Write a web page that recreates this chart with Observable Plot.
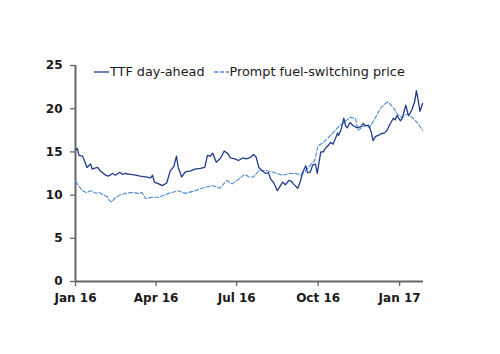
<!DOCTYPE html>
<html>
<head>
<meta charset="utf-8">
<script src="https://cdn.jsdelivr.net/npm/d3@7"></script>
<script src="https://cdn.jsdelivr.net/npm/@observablehq/plot@0.6"></script>
<style>
  html, body { margin: 0; padding: 0; background: #fff; }
  #wrap { position: relative; width: 500px; height: 354px; }
  #legend { position: absolute; left: 94px; top: 64px; font: 12.8px "DejaVu Sans", sans-serif; color: #1a1a1a; display: flex; align-items: center; white-space: nowrap; }
  #legend svg { display: block; }
</style>
</head>
<body>
<div id="wrap"></div>
<script>
const ttfDates = ["2016-01-01","2016-01-03","2016-01-05","2016-01-09","2016-01-11","2016-01-14","2016-01-18","2016-01-20","2016-01-22","2016-01-26","2016-01-29","2016-01-31","2016-02-04","2016-02-07","2016-02-12","2016-02-15","2016-02-20","2016-02-23","2016-02-26","2016-03-03","2016-03-09","2016-03-14","2016-03-20","2016-03-26","2016-03-28","2016-03-30","2016-04-04","2016-04-08","2016-04-13","2016-04-17","2016-04-21","2016-04-24","2016-04-26","2016-04-30","2016-05-04","2016-05-10","2016-05-15","2016-05-21","2016-05-26","2016-05-29","2016-06-01","2016-06-04","2016-06-08","2016-06-13","2016-06-17","2016-06-21","2016-06-24","2016-06-29","2016-07-03","2016-07-08","2016-07-12","2016-07-17","2016-07-20","2016-07-23","2016-07-26","2016-07-30","2016-08-03","2016-08-06","2016-08-08","2016-08-12","2016-08-16","2016-08-19","2016-08-22","2016-08-25","2016-08-29","2016-09-01","2016-09-03","2016-09-08","2016-09-11","2016-09-13","2016-09-17","2016-09-19","2016-09-22","2016-09-25","2016-09-28","2016-09-30","2016-10-04","2016-10-07","2016-10-09","2016-10-13","2016-10-15","2016-10-18","2016-10-23","2016-10-24","2016-10-27","2016-10-30","2016-11-01","2016-11-03","2016-11-06","2016-11-10","2016-11-14","2016-11-18","2016-11-21","2016-11-23","2016-11-27","2016-11-30","2016-12-02","2016-12-05","2016-12-08","2016-12-11","2016-12-15","2016-12-18","2016-12-21","2016-12-25","2016-12-27","2016-12-29","2017-01-02","2017-01-04","2017-01-08","2017-01-11","2017-01-13","2017-01-15","2017-01-18","2017-01-20","2017-01-22","2017-01-24","2017-01-27"];
const ttfValues = [15.2,15.4,14.6,14.5,14.0,13.2,13.6,13.0,13.1,13.2,12.8,12.65,12.3,12.2,12.5,12.3,12.65,12.4,12.5,12.4,12.3,12.2,12.1,12.0,12.3,11.5,11.3,11.1,11.4,12.8,13.3,14.5,13.2,12.1,12.7,12.8,13.0,13.1,13.2,14.6,14.5,14.85,13.8,14.3,15.1,14.8,14.3,14.2,14.0,14.3,14.2,14.4,14.7,14.4,13.2,12.8,12.5,12.6,11.9,11.4,10.5,11.0,11.5,11.2,11.7,11.6,11.3,10.8,11.6,12.5,13.4,12.6,12.65,13.5,13.6,12.5,15.0,15.0,15.4,15.8,16.1,15.9,17.2,16.9,17.6,18.9,18.0,17.8,18.4,18.0,17.8,17.9,18.3,18.0,18.1,17.3,16.3,16.8,16.9,17.1,17.2,17.5,18.2,18.9,18.7,19.2,18.6,18.9,20.4,19.2,19.5,19.9,20.8,22.1,21.0,19.7,20.6];

const promptDates = ["2016-01-01","2016-01-05","2016-01-09","2016-01-13","2016-01-19","2016-01-24","2016-01-28","2016-02-02","2016-02-06","2016-02-08","2016-02-11","2016-02-14","2016-02-20","2016-02-26","2016-03-04","2016-03-12","2016-03-16","2016-03-20","2016-03-27","2016-04-04","2016-04-15","2016-04-26","2016-05-04","2016-05-15","2016-05-26","2016-06-04","2016-06-12","2016-06-20","2016-06-26","2016-07-04","2016-07-10","2016-07-15","2016-07-20","2016-07-26","2016-08-03","2016-08-11","2016-08-22","2016-08-29","2016-09-06","2016-09-12","2016-09-20","2016-09-27","2016-10-01","2016-10-07","2016-10-15","2016-10-23","2016-10-30","2016-11-06","2016-11-12","2016-11-15","2016-11-23","2016-11-28","2016-12-05","2016-12-10","2016-12-16","2016-12-19","2016-12-26","2016-12-29","2017-01-03","2017-01-10","2017-01-15","2017-01-21","2017-01-27"];
const promptValues = [11.6,11.0,10.5,10.3,10.5,10.2,10.3,10.0,9.8,9.4,9.2,9.6,10.0,10.2,10.3,10.2,10.3,9.6,9.75,9.75,10.2,10.5,10.2,10.5,10.9,11.1,10.8,11.7,11.3,11.9,12.4,12.1,12.1,12.85,12.85,12.65,12.3,12.5,12.5,12.3,13.2,14.0,15.7,16.1,16.9,17.8,18.4,19.0,18.9,17.5,18.1,17.8,19.0,20.0,20.6,20.8,20.0,19.4,19.0,19.4,19.0,18.4,17.5];

const xTickDates = ["2016-01-01","2016-04-01","2016-07-01","2016-10-01","2017-01-01"];
const xTickLabels = ["Jan 16","Apr 16","Jul 16","Oct 16","Jan 17"];
const yTicks = [0,5,10,15,20,25];
const seriesNames = ["TTF day-ahead","Prompt fuel-switching price"];
const seriesColors = ["#1f3c8f","#4d8ad6"];

const parse = d3.utcParse("%Y-%m-%d");
const ttf = ttfDates.map((d,i) => ({date: parse(d), value: ttfValues[i]}));
const prompt = promptDates.map((d,i) => ({date: parse(d), value: promptValues[i]}));
const xTicks = xTickDates.map(parse);
const labelOf = new Map(xTicks.map((d,i) => [+d, xTickLabels[i]]));
const xDomain = [parse("2016-01-01"), parse("2017-01-28")];

const axisFont = {fontFamily: "DejaVu Sans, sans-serif", fontSize: 12, fontWeight: "bold", fill: "#1a1a1a"};

const chart = Plot.plot({
  width: 500,
  height: 354,
  marginLeft: 75,
  marginRight: 77,
  marginTop: 65,
  marginBottom: 73,
  style: {background: "#fff", fontFamily: "DejaVu Sans, sans-serif"},
  x: {type: "utc", domain: xDomain},
  y: {domain: [0, 25]},
  marks: [
    Plot.axisY({ticks: yTicks, label: null, tickSize: 5, tickPadding: 8, stroke: "#666", strokeWidth: 1.3, tickFormat: d => String(d), ...axisFont}),
    Plot.axisX({ticks: xTicks, label: null, tickSize: 5, tickPadding: 7, stroke: "#666", strokeWidth: 1.3, tickFormat: d => labelOf.get(+d), ...axisFont}),
    Plot.ruleX([xDomain[0]], {stroke: "#666", strokeWidth: 2}),
    Plot.ruleY([0], {stroke: "#666", strokeWidth: 2}),
    Plot.line(prompt, {x: "date", y: "value", stroke: seriesColors[1], strokeWidth: 1.1, strokeDasharray: "4,2"}),
    Plot.line(ttf, {x: "date", y: "value", stroke: seriesColors[0], strokeWidth: 1.3})
  ]
});

const wrap = document.getElementById("wrap");
wrap.appendChild(chart);

const legend = document.createElement("div");
legend.id = "legend";
seriesNames.forEach((name, i) => {
  const sw = document.createElementNS("http://www.w3.org/2000/svg", "svg");
  sw.setAttribute("width", 15); sw.setAttribute("height", 10);
  const ln = document.createElementNS("http://www.w3.org/2000/svg", "line");
  ln.setAttribute("x1", 0); ln.setAttribute("x2", 15); ln.setAttribute("y1", 5); ln.setAttribute("y2", 5);
  ln.setAttribute("stroke", seriesColors[i]); ln.setAttribute("stroke-width", 1.3);
  if (i === 1) ln.setAttribute("stroke-dasharray", "4,2");
  sw.appendChild(ln);
  const t = document.createElement("span");
  t.textContent = name;
  t.style.marginLeft = "1px";
  t.style.marginRight = i === 0 ? "9px" : "0";
  legend.appendChild(sw);
  legend.appendChild(t);
});
wrap.appendChild(legend);
</script>
</body>
</html>
